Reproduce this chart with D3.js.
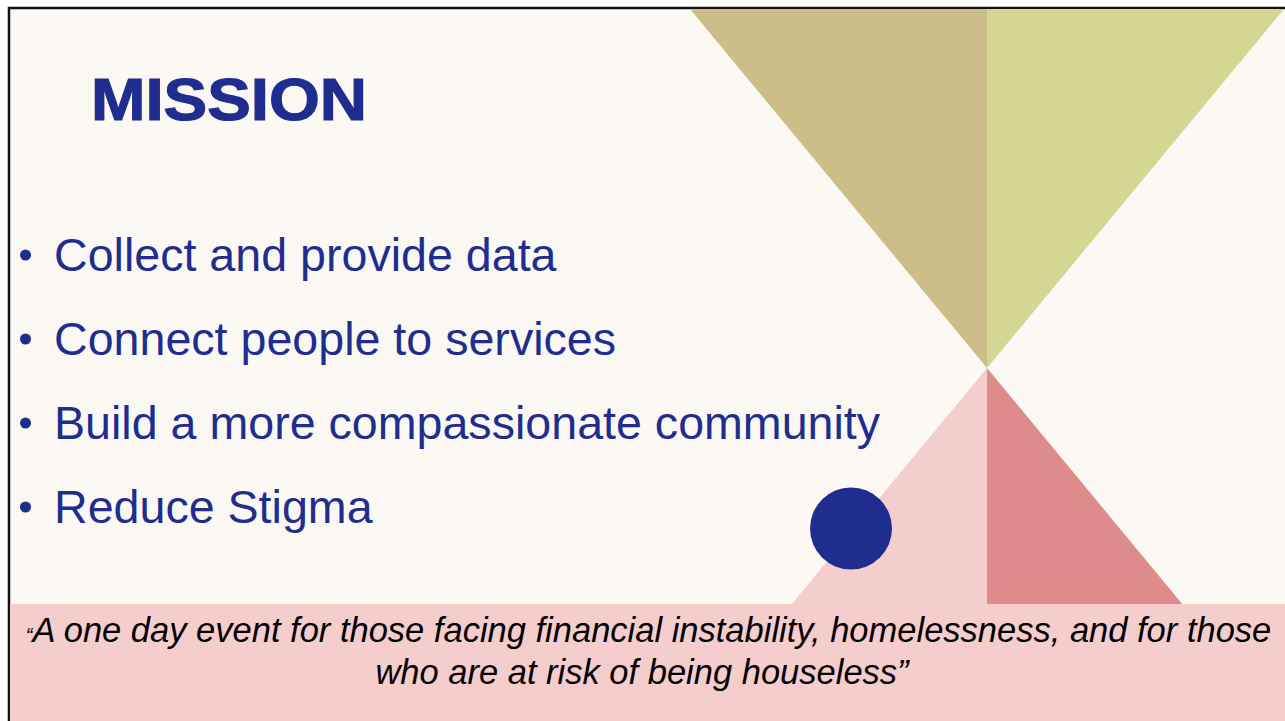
<!DOCTYPE html>
<html>
<head>
<meta charset="utf-8">
<script src="https://cdn.jsdelivr.net/npm/d3@7"></script>
<style>
  body { margin: 0; background: #fff; }
  svg { display: block; }
</style>
</head>
<body>
<svg id="slide" width="1285" height="721"></svg>
<script>
// slide content
var title = "MISSION";
var bullets = ["Collect and provide data", "Connect people to services",
               "Build a more compassionate community", "Reduce Stigma"];
var quoteLines = ["A one day event for those facing financial instability, homelessness, and for those",
                  "who are at risk of being houseless\u201D"];

// the two hourglass triangles, each split in two halves
var triangles = [
    {name: "topLeft",  dir: -1, side: -1, color: "#cbbe88"},
    {name: "topRight", dir: -1, side: 1,  color: "#d4d694"},
    {name: "botLeft",  dir: 1,  side: -1, color: "#f4cdcd"},
    {name: "botRight", dir: 1,  side: 1,  color: "#de8b8b"}
];

var W = 1285, H = 721;
var navy = "#1f2d8f";
var svg = d3.select("#slide");

// slide background + black frame (slide runs past right/bottom edge)
svg.append("rect")
    .attr("x", 9).attr("y", 8)
    .attr("width", W + 20).attr("height", H + 20)
    .attr("fill", "#fcf9f4")
    .attr("stroke", "#111")
    .attr("stroke-width", 2.5);

// hourglass: apex in the middle, height 359 up and down
var apex = {x: 987, y: 368};
var yScale = d3.scaleLinear().domain([-1, 0, 1]).range([9, apex.y, apex.y + 359]);
var halfW = 297;

var g = svg.append("g");
g.selectAll("path.tri")
    .data(triangles)
    .enter()
    .append("path")
    .attr("class", "tri")
    .attr("fill", function(d) { return d.color; })
    .attr("d", function(d) {
        var yb = yScale(d.dir);
        return d3.line()([[apex.x, apex.y], [apex.x + d.side * halfW, yb], [apex.x, yb]]) + "Z";
    });

// the blue dot
svg.append("circle")
    .attr("cx", 851).attr("cy", 528.5).attr("r", 41)
    .attr("fill", navy);

// quote band
svg.append("rect")
    .attr("x", 10).attr("y", 604)
    .attr("width", W).attr("height", H - 604)
    .attr("fill", "#f5cdcd");

// title (heavy, Arial Black look)
svg.append("text")
    .attr("x", 91).attr("y", 120)
    .attr("textLength", 276)
    .attr("lengthAdjust", "spacingAndGlyphs")
    .style("font-family", "'Liberation Sans', Arial, sans-serif")
    .style("font-weight", "bold")
    .style("font-size", "60px")
    .attr("fill", navy)
    .attr("stroke", navy)
    .attr("stroke-width", 1.2)
    .text(title);

// bullet list
var by = d3.scalePoint().domain(d3.range(bullets.length)).range([271, 523]);
var items = svg.selectAll("g.item")
    .data(bullets)
    .enter()
    .append("g")
    .attr("class", "item")
    .attr("transform", function(d, i) { return "translate(0," + by(i) + ")"; });

items.append("circle")
    .attr("cx", 25.5).attr("cy", -16).attr("r", 5.5)
    .attr("fill", navy);

items.append("text")
    .attr("x", 54)
    .style("font-family", "'Liberation Sans', Arial, sans-serif")
    .style("font-size", "46.6px")
    .attr("fill", navy)
    .text(function(d) { return d; });

// quote text
var qy = d3.scalePoint().domain(d3.range(quoteLines.length)).range([642, 684]);
var q = svg.selectAll("text.quote")
    .data(quoteLines)
    .enter()
    .append("text")
    .attr("class", "quote")
    .attr("x", function(d, i) { return i == 0 ? 648.5 : 642; })
    .attr("y", function(d, i) { return qy(i); })
    .attr("text-anchor", "middle")
    .style("font-family", "'Liberation Sans', Arial, sans-serif")
    .style("font-style", "italic")
    .style("font-size", "34.5px")
    .attr("fill", "#000");

q.each(function(d, i) {
    var t = d3.select(this);
    if (i == 0) {
        // small opening quote mark
        t.append("tspan").style("font-size", "20px").text("\u201C");
    }
    t.append("tspan").text(d);
});
</script>
</body>
</html>
